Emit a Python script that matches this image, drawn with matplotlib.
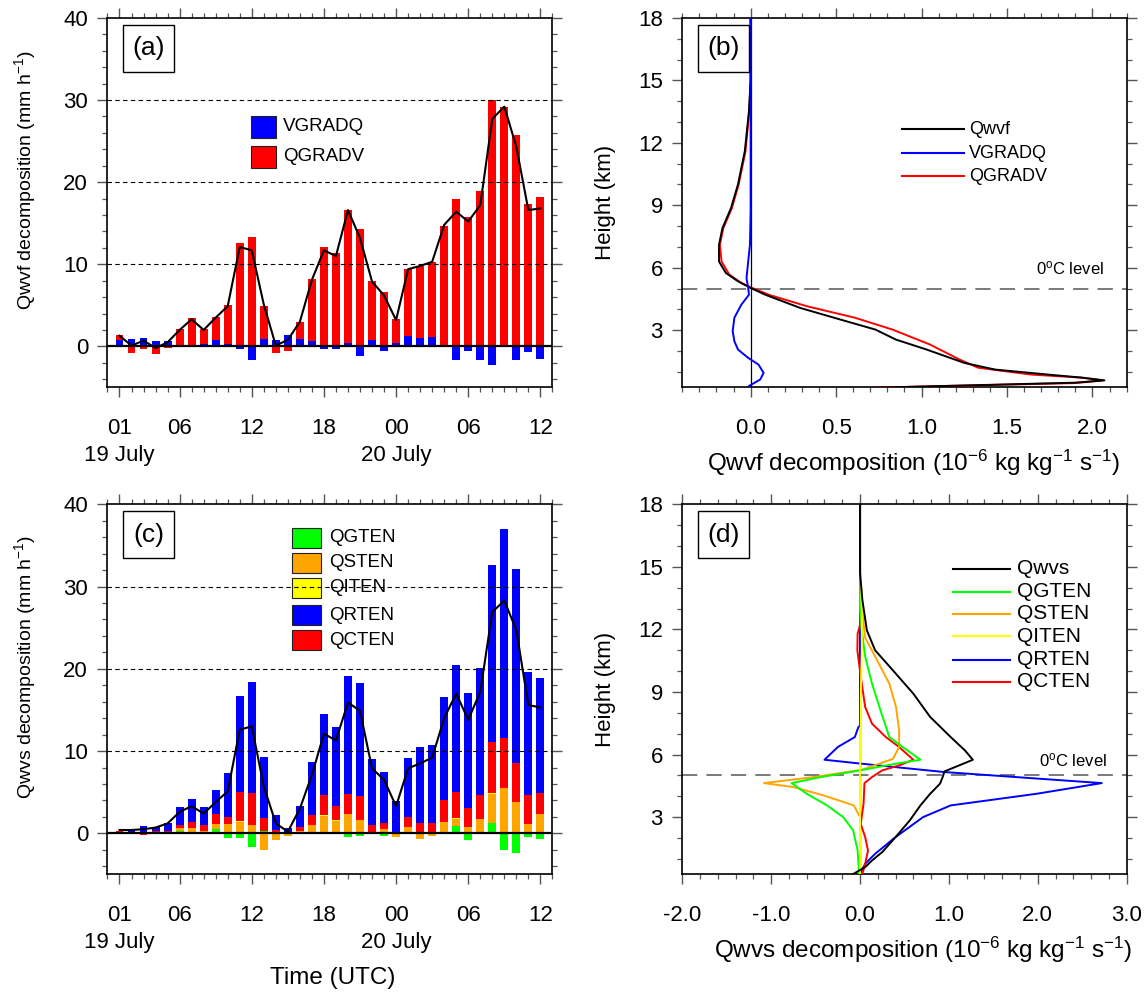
import matplotlib
matplotlib.use("Agg")
import matplotlib.pyplot as plt
import numpy as np
from matplotlib.ticker import MultipleLocator, FixedLocator
from matplotlib.patches import Rectangle
from matplotlib.lines import Line2D

plt.rcParams['font.family'] = ['Liberation Sans', 'DejaVu Sans']
plt.rcParams['mathtext.default'] = 'regular'

# ---- hourly series, 01 UTC 19 July .. 12 UTC 20 July ----
hours = list(range(1, 37))
tick_hours = [1, 6, 12, 18, 24, 30, 36]
tick_text = ['01\n19 July', '06', '12', '18', '00\n20 July', '06', '12']

# (a) water vapour flux convergence terms (mm h-1)
qgradv = [1.4, -0.8, -0.3, -0.9, -0.25, 2.1, 3.4, 2.1, 3.6, 5.0, 12.6, 13.3, 4.9, -0.8, -0.6, 3.0, 8.2, 12.1,
          11.4, 16.6, 14.3, 8.0, 6.6, 3.3, 9.4, 9.8, 10.3, 14.7, 18.0, 15.7, 18.9, 30.0, 29.2, 25.7, 17.3, 18.2]
vgradq = [0.8, 0.9, 1.0, 0.7, 0.7, 0.0, 0.2, 0.25, 0.8, 0.35, -0.3, -1.7, 0.9, 0.8, 1.4, 0.9, 0.7, -0.3,
          -0.3, 0.4, -1.2, 0.8, -0.5, 0.45, 1.3, 1.05, 1.2, 0.15, -1.6, -0.5, -1.7, -2.3, 0.05, -1.7, -0.7, -1.5]
qwvf = [1.3, 0.1, 0.7, -0.2, 0.5, 2.0, 3.3, 2.0, 3.5, 4.9, 12.1, 11.7, 5.1, 0.1, 0.8, 3.0, 8.1, 11.7,
        11.0, 16.6, 13.2, 7.9, 6.2, 3.2, 9.4, 9.8, 10.3, 14.8, 16.4, 15.2, 17.2, 27.7, 29.2, 24.3, 16.6, 16.8]

# (c) hydrometeor tendency terms (mm h-1)
qgten = [0, 0, 0, 0, 0, 0.28, 0.15, 0.15, 0.5, -0.6, -0.6, -1.65, 0.3, 0, 0, 0, 0.2, 0,
         0.1, -0.5, -0.3, -0.1, -0.3, 0, 0, 0.05, 0, 0.2, 0.9, -0.8, 0, 1.2, -2.0, -2.35, -0.5, -0.65]
qsten = [0.1, 0.05, 0, 0, 0, 0.33, 0.45, 0.13, 0.6, 1.1, 1.4, 1.0, -2.0, -0.8, -0.3, 0.28, 0.85, 2.15,
         1.45, 2.35, 1.6, 0.2, 0.5, -0.5, 0.73, -0.65, -0.3, 1.2, 0.9, 0.73, 1.7, 3.6, 5.5, 3.75, 1.13, 2.35]
qiten = [0, 0, 0, 0, 0, 0.02, 0.02, 0, 0.02, 0.03, 0.05, 0.05, 0.02, 0, 0, 0, 0.02, 0.03,
         0.02, 0.03, 0.03, 0, 0, 0, 0.02, 0.02, 0.02, 0.03, 0.03, 0.03, 0.03, 0.05, 0.05, 0.05, 0.03, 0.03]
qcten = [0.15, 0.05, -0.25, 0.28, 0.28, 0.36, 0.78, 0.72, 1.2, 0.9, 3.6, 3.8, 1.5, 0.36, 0, 0.5, 1.2, 2.5,
         1.8, 2.45, 2.85, 0.8, 0.8, 0.2, 1.2, 1.2, 1.2, 2.65, 3.25, 2.3, 2.95, 6.3, 6.0, 4.75, 3.5, 2.5]
qrten = [0.05, 0.3, 0.85, 0.5, 1.0, 2.15, 2.75, 2.25, 2.9, 5.25, 11.7, 13.5, 7.5, 1.85, 0.6, 2.55, 6.35, 9.8,
         9.6, 14.3, 13.85, 8.0, 6.2, 3.7, 7.25, 9.25, 9.5, 12.45, 15.35, 13.95, 15.45, 21.5, 25.5, 23.6, 15.0, 14.0]
qwvs = [0.4, 0.4, 0.5, 0.7, 1.2, 2.6, 3.3, 2.4, 3.8, 5.1, 12.6, 13.0, 5.7, 1.2, 0.2, 3.0, 7.1, 12.1,
        11.3, 15.9, 14.9, 7.9, 6.5, 3.3, 7.9, 8.5, 9.2, 14.0, 17.0, 13.8, 17.2, 26.9, 28.3, 24.7, 15.6, 15.3]

# (b) vertical profiles (10-6 kg kg-1 s-1), height in km
b_qwvf_h = [18, 15, 13.5, 11.6, 10.0, 8.86, 7.9, 7.1, 6.3, 5.75, 5.35, 5.03, 4.7, 4.07, 3.5, 3.03, 2.55,
            2.07, 1.43, 1.11, 0.87, 0.72, 0.59, 0.48, 0.32, 0.24, 0.1]
b_qwvf = [0, 0, -0.01, -0.034, -0.074, -0.115, -0.165, -0.185, -0.185, -0.145, -0.074, 0, 0.087, 0.29, 0.53,
          0.73, 0.85, 1.03, 1.25, 1.43, 1.74, 1.94, 2.07, 1.9, 1.13, 0.73, 0.4]
b_vgradq_h = [18, 8.7, 7.1, 6.0, 5.5, 5.03, 4.7, 4.23, 3.6, 2.95, 2.47, 2.07, 1.67, 1.35, 0.95, 0.63, 0.32, 0.1]
b_vgradq = [0, 0, -0.004, -0.018, -0.024, -0.014, -0.01, -0.054, -0.095, -0.105, -0.095, -0.074, -0.014,
            0.046, 0.076, 0.056, -0.01, -0.02]
b_qgradv_h = [18, 15, 13.5, 11.6, 10.0, 8.86, 7.9, 7.1, 6.3, 5.67, 5.27, 5.06, 4.7, 4.15, 3.6, 3.03, 2.31,
              1.6, 1.2, 0.87, 0.72, 0.59, 0.46, 0.32, 0.24, 0.1]
b_qgradv = [0, 0, -0.008, -0.03, -0.07, -0.11, -0.16, -0.18, -0.17, -0.125, -0.054, 0, 0.107, 0.33, 0.61,
            0.83, 1.05, 1.22, 1.33, 1.64, 1.94, 2.06, 1.9, 1.13, 0.73, 0.4]

# (d) vertical profiles (10-6 kg kg-1 s-1), height in km
d_qwvs_h = [18, 14.7, 13.4, 11.96, 11.0, 10.04, 8.92, 7.8, 6.84, 6.2, 5.75, 5.19, 4.92, 4.6, 4.12, 3.56,
            2.84, 2.04, 1.32, 0.92, 0.6, 0.25]
d_qwvs = [0, 0, 0.027, 0.077, 0.17, 0.37, 0.6, 0.79, 1.02, 1.18, 1.27, 0.95, 0.93, 0.9, 0.79, 0.68,
          0.56, 0.4, 0.25, 0.135, 0.058, -0.085]
d_qgten_h = [18, 13.1, 11.96, 10.7, 9.4, 8.12, 6.84, 6.36, 5.75, 5.56, 5.24, 4.92, 4.63, 4.12, 3.56, 3.0,
             2.36, 1.4, 0.28]
d_qgten = [0, 0, 0.02, 0.058, 0.135, 0.23, 0.33, 0.48, 0.68, 0.4, 0, -0.44, -0.77, -0.6, -0.37, -0.19,
           -0.077, -0.027, -0.01]
d_qsten_h = [18, 15.5, 13.1, 11.6, 10.7, 9.4, 8.28, 7.16, 6.36, 5.79, 5.27, 4.92, 4.63, 4.44, 4.04, 3.56,
             3.0, 0.28]
d_qsten = [0, 0, 0.02, 0.058, 0.17, 0.33, 0.405, 0.44, 0.44, 0.37, 0.02, -0.52, -1.08, -0.75, -0.41, -0.07,
           0, 0]
d_qiten_h = [18, 15, 13.0, 11.0, 9.0, 7.0, 6.0, 5.0, 0.28]
d_qiten = [0, 0.005, 0.02, 0.02, 0.01, 0.008, 0.005, 0, 0]
d_qrten_h = [18, 7.4, 7.3, 6.84, 6.36, 5.75, 5.56, 5.16, 4.63, 4.12, 3.56, 3.0, 2.04, 1.24, 0.76, 0.28]
d_qrten = [0, 0, -0.02, -0.058, -0.25, -0.4, 0.02, 0.95, 2.72, 1.99, 1.02, 0.71, 0.4, 0.17, 0.058, 0]
d_qcten_h = [18, 12.2, 11.8, 11.0, 10.4, 9.4, 8.28, 7.48, 6.84, 6.36, 5.75, 5.48, 5.24, 4.92, 4.63, 3.64,
             2.68, 2.04, 1.4, 0.76, 0.28]
d_qcten = [0, 0, -0.027, -0.03, -0.012, 0.02, 0.058, 0.135, 0.29, 0.44, 0.6, 0.44, 0.25, 0.135, 0.05, 0.04,
           0.008, 0.058, 0.09, 0.058, 0.027]

FS_TICK = 16
FS_YLAB = 14
FS_XLAB = 17.5
FS_LEG = 13.5
GREEN, ORANGE, YELLOW = '#00ff00', '#ffa500', '#ffff00'

fig = plt.figure(figsize=(11.48, 9.94), dpi=100)
ax_a = fig.add_axes([0.0936, 0.6102, 0.3876, 0.3718])
ax_b = fig.add_axes([0.5943, 0.6102, 0.3871, 0.3718])
ax_c = fig.add_axes([0.0936, 0.1203, 0.3876, 0.3723])
ax_d = fig.add_axes([0.5943, 0.1203, 0.3871, 0.3723])


def style_axes(ax):
    for s in ax.spines.values():
        s.set_linewidth(1.2)
    ax.tick_params(which='both', direction='out', top=True, right=True,
                   color='#555555', labelsize=FS_TICK)
    ax.tick_params(which='major', length=7, width=1.0)
    ax.tick_params(which='minor', length=3.8, width=0.9)
    ax.tick_params(axis='x', which='major', pad=15)
    ax.tick_params(axis='y', which='major', pad=7)


def panel_tag(ax, txt):
    ax.add_patch(Rectangle((0.036, 0.854), 0.114, 0.127, transform=ax.transAxes,
                           fill=False, ec='k', lw=1.0, zorder=6))
    ax.text(0.093, 0.9175, txt, transform=ax.transAxes, ha='center', va='center',
            fontsize=19, zorder=6)


def time_axes(ax, ylabel):
    style_axes(ax)
    ax.set_xlim(0, 37)
    ax.set_ylim(-5, 40)
    ax.xaxis.set_major_locator(FixedLocator(tick_hours))
    ax.xaxis.set_minor_locator(MultipleLocator(1))
    ax.set_xticklabels(tick_text)
    for lab in ax.get_xticklabels():
        lab.set_linespacing(1.35)
    ax.yaxis.set_major_locator(MultipleLocator(10))
    ax.yaxis.set_minor_locator(MultipleLocator(2))
    for yv in (10, 20, 30):
        ax.axhline(yv, color='k', lw=0.8, ls=(0, (4, 3)), zorder=4)
    ax.axhline(0, color='k', lw=1.6, zorder=5)
    ax.set_ylabel(ylabel, fontsize=FS_YLAB)
    ax.yaxis.set_label_coords(-0.156, 0.56)


def profile_axes(ax, xlabel, xpos):
    style_axes(ax)
    ax.set_ylim(0.25, 18)
    ax.yaxis.set_major_locator(MultipleLocator(3))
    ax.yaxis.set_minor_locator(MultipleLocator(1))
    ax.xaxis.set_major_formatter(matplotlib.ticker.FormatStrFormatter('%.1f'))
    ax.axvline(0, color='k', lw=0.9, zorder=1)
    ax.axhline(5, color='#555555', lw=1.1, dashes=(10, 6), zorder=1)
    ax.set_ylabel('Height (km)', fontsize=16)
    ax.yaxis.set_label_coords(-0.149, 0.5)
    ax.text(xpos, -0.203, xlabel, transform=ax.transAxes, ha='center', va='center', fontsize=FS_XLAB)


# ---- (a) ----
time_axes(ax_a, 'Qwvf decomposition (mm h$^{-1}$)')
bw = 0.66
ax_a.bar(hours, qgradv, width=bw, color='red', zorder=2)
ax_a.bar(hours, vgradq, width=bw, color='blue', zorder=3)
ax_a.plot(hours, qwvf, color='k', lw=1.5, zorder=6)
panel_tag(ax_a, '(a)')
for yc, col, name in [(0.705, 'blue', 'VGRADQ'), (0.6245, 'red', 'QGRADV')]:
    ax_a.add_patch(Rectangle((0.323, yc - 0.03), 0.055, 0.06, transform=ax_a.transAxes,
                             fc=col, ec='#222222', lw=0.8, zorder=7))
    ax_a.text(0.394, yc, name, transform=ax_a.transAxes, va='center', fontsize=FS_LEG, zorder=7)

# ---- (c) stacked, positive and negative parts separately ----
time_axes(ax_c, 'Qwvs decomposition (mm h$^{-1}$)')
pos_base = np.zeros(len(hours))
neg_base = np.zeros(len(hours))
for vals, col in [(qgten, GREEN), (qsten, ORANGE), (qiten, YELLOW), (qcten, 'red'), (qrten, 'blue')]:
    v = np.array(vals, dtype=float)
    p = np.where(v > 0, v, 0)
    n = np.where(v < 0, v, 0)
    ax_c.bar(hours, p, bottom=pos_base, width=bw, color=col, zorder=2)
    ax_c.bar(hours, n, bottom=neg_base, width=bw, color=col, zorder=2)
    pos_base += p
    neg_base += n
ax_c.plot(hours, qwvs, color='k', lw=1.5, zorder=6)
panel_tag(ax_c, '(c)')
for yc, col, name in [(0.9095, GREEN, 'QGTEN'), (0.842, ORANGE, 'QSTEN'), (0.774, YELLOW, 'QITEN'),
                      (0.701, 'blue', 'QRTEN'), (0.633, 'red', 'QCTEN')]:
    ax_c.add_patch(Rectangle((0.415, yc - 0.0265), 0.064, 0.053, transform=ax_c.transAxes,
                             fc=col, ec='#222222', lw=0.8, zorder=3))
    ax_c.text(0.498, yc, name, transform=ax_c.transAxes, va='center', fontsize=FS_LEG, zorder=3)
ax_c.text(0.507, -0.28, 'Time (UTC)', transform=ax_c.transAxes, ha='center', va='center',
          fontsize=FS_XLAB)

# ---- (b) ----
profile_axes(ax_b, 'Qwvf decomposition (10$^{-6}$ kg kg$^{-1}$ s$^{-1}$)', 0.52)
ax_b.set_xlim(-0.4, 2.2)
ax_b.xaxis.set_major_locator(MultipleLocator(0.5))
ax_b.xaxis.set_minor_locator(MultipleLocator(0.1))
ax_b.plot(b_qgradv, b_qgradv_h, color='red', lw=1.4, zorder=3)
ax_b.plot(b_qwvf, b_qwvf_h, color='k', lw=1.4, zorder=3)
ax_b.plot(b_vgradq, b_vgradq_h, color='blue', lw=1.4, zorder=3)
panel_tag(ax_b, '(b)')
for yc, col, name in [(0.699, 'k', 'Qwvf'), (0.634, 'blue', 'VGRADQ'), (0.572, 'red', 'QGRADV')]:
    ax_b.add_line(Line2D([0.494, 0.634], [yc, yc], transform=ax_b.transAxes, color=col, lw=1.5))
    ax_b.text(0.645, yc, name, transform=ax_b.transAxes, va='center', fontsize=13)
ax_b.text(0.95, 0.323, '0$^{o}$C level', transform=ax_b.transAxes, ha='right', va='center', fontsize=12)

# ---- (d) ----
profile_axes(ax_d, 'Qwvs decomposition (10$^{-6}$ kg kg$^{-1}$ s$^{-1}$)', 0.542)
ax_d.set_xlim(-2, 3)
ax_d.xaxis.set_major_locator(MultipleLocator(1))
ax_d.xaxis.set_minor_locator(MultipleLocator(0.2))
ax_d.plot(d_qrten, d_qrten_h, color='blue', lw=1.4, zorder=3)
ax_d.plot(d_qcten, d_qcten_h, color='red', lw=1.4, zorder=3)
ax_d.plot(d_qsten, d_qsten_h, color=ORANGE, lw=1.4, zorder=3)
ax_d.plot(d_qgten, d_qgten_h, color=GREEN, lw=1.4, zorder=3)
ax_d.plot(d_qiten, d_qiten_h, color=YELLOW, lw=1.4, zorder=3)
ax_d.plot(d_qwvs, d_qwvs_h, color='k', lw=1.4, zorder=4)
panel_tag(ax_d, '(d)')
for yc, col, name in [(0.826, 'k', 'Qwvs'), (0.764, GREEN, 'QGTEN'), (0.705, ORANGE, 'QSTEN'),
                      (0.643, YELLOW, 'QITEN'), (0.580, 'blue', 'QRTEN'), (0.520, 'red', 'QCTEN')]:
    ax_d.add_line(Line2D([0.609, 0.737], [yc, yc], transform=ax_d.transAxes, color=col, lw=1.5))
    ax_d.text(0.753, yc, name, transform=ax_d.transAxes, va='center', fontsize=15)
ax_d.text(0.955, 0.309, '0$^{o}$C level', transform=ax_d.transAxes, ha='right', va='center', fontsize=12)

fig.savefig('out.png', dpi=100)
